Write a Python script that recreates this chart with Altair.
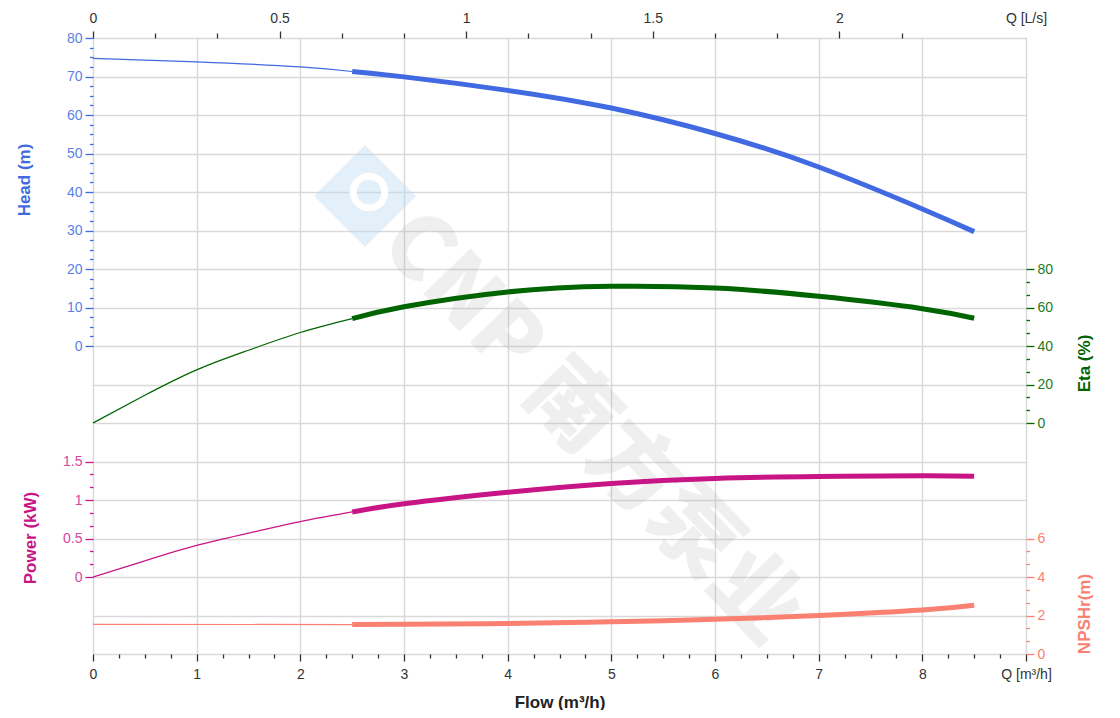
import altair as alt
import pandas as pd

# ---------------- data ----------------
q_head = [0, 1, 2, 2.5, 3, 4, 5, 6, 7, 8, 8.5]
head_m = [74.7, 73.8, 72.5, 71.3, 69.9, 66.4, 61.8, 55.2, 46.5, 35.6, 29.7]

q_eta = [0, 0.5, 1, 1.5, 2, 2.5, 3, 4, 5, 6, 7, 8, 8.5]
eta_pct = [0, 14.4, 27.6, 37.8, 47.0, 54.2, 60.4, 68.1, 71.0, 70.1, 65.8, 59.4, 54.4]

q_power = [0, 0.5, 1, 1.5, 2, 2.5, 3, 4, 5, 6, 7, 8, 8.5]
power_kw = [0, 0.21, 0.41, 0.57, 0.72, 0.845, 0.95, 1.10, 1.215, 1.28, 1.305, 1.315, 1.31]

q_npsh = [0, 2.5, 3, 4, 5, 6, 7, 8, 8.5]
npshr_m = [1.54, 1.53, 1.54, 1.58, 1.67, 1.80, 2.0, 2.28, 2.53]

op_start = 2.5  # start of the operating (thick) range

watermark_text = "CNP 南方泵业"

HEAD_C, ETA_C, POW_C, NPSH_C = "#4169E1", "#006400", "#C71585", "#FA8072"
FONT = "Liberation Sans"
GRID_C = "#d9d9d9"

xscale = alt.Scale(domain=[0, 9], nice=False, zero=False)
head_scale = alt.Scale(domain=[-80, 80], nice=False)
eta_scale = alt.Scale(domain=[-120, 200], nice=False)
pow_scale = alt.Scale(domain=[-1, 7], nice=False)
npsh_scale = alt.Scale(domain=[0, 32], nice=False)
qls_scale = alt.Scale(domain=[0, 2.5], nice=False, zero=False)


def cond(test, yes, no):
    return {"condition": {"test": test, "value": yes}, "value": no}


def yaxis(orient, values, major_test, label_expr, tick_c, label_c, title, tx, ty, **kw):
    opts = dict(grid=False)
    opts.update(kw)
    return alt.Axis(
        orient=orient, values=values, labelExpr=label_expr,
        tickSize=cond(major_test, 8, 3.5), tickColor=tick_c, tickWidth=1.3,
        labelColor=label_c, labelFont=FONT, labelFontSize=14, labelPadding=3,
        labelOverlap=False, domain=False,
        title=title, titleColor=tick_c, titleFont=FONT, titleFontSize=17,
        titleFontWeight="bold", titleAngle=270, titleAlign="center",
        titleBaseline="middle", titleX=tx, titleY=ty, **opts,
    )


x_bottom_axis = alt.Axis(
    orient="bottom", values=[i * 0.25 for i in range(37)],
    labelExpr="datum.value == 9 ? 'Q [m³/h]' : (datum.value % 1 == 0 ? '' + datum.value : '')",
    tickSize=cond("datum.value % 1 == 0", 7, 4), tickColor="#333", tickWidth=1.3,
    labelColor="#333", labelFont=FONT, labelFontSize=14, labelPadding=6,
    labelFlush=False, labelOverlap=False, domain=False,
    grid=True, gridColor=GRID_C, gridWidth=1.5,
    gridOpacity=cond("datum.value % 1 == 0", 1, 0),
    title="Flow (m³/h)", titleFont=FONT, titleFontSize=17, titleFontWeight="bold",
    titleColor="#222", titleY=48, titleBaseline="middle",
)

x_top_axis = alt.Axis(
    orient="top", values=[k / 6 for k in range(14)] + [2.5],
    labelExpr="datum.value == 2.5 ? 'Q [L/s]' : (abs(datum.value*2 - round(datum.value*2)) < 1e-6 ? '' + round(datum.value*2)/2 : '')",
    tickSize=cond("abs(datum.value*2 - round(datum.value*2)) < 1e-6", 7, 5),
    tickOpacity=cond("datum.value == 2.5", 0, 1),
    tickColor="#333", tickWidth=1.3, labelColor="#333", labelFont=FONT,
    labelFontSize=14, labelPadding=6, labelFlush=False, labelOverlap=False,
    domain=False, grid=False, title="",
)

head_axis = yaxis(
    "left", [i * 2.5 for i in range(33)], "datum.value % 10 == 0",
    "datum.value % 10 == 0 ? '' + datum.value : ''",
    HEAD_C, "#5b7fe6", "Head (m)", -69, 141.5,
)
pow_axis = yaxis(
    "left", [k / 6 for k in range(10)],
    "abs(datum.value*2 - round(datum.value*2)) < 1e-6",
    "abs(datum.value*2 - round(datum.value*2)) < 1e-6 ? '' + round(datum.value*2)/2 : ''",
    POW_C, "#d4479f", "Power (kW)", -63, 499.5,
)
eta_axis = yaxis(
    "right", [k * 20 / 3 for k in range(13)],
    "abs(datum.value/20 - round(datum.value/20)) < 1e-6",
    "abs(datum.value/20 - round(datum.value/20)) < 1e-6 ? '' + round(datum.value) : ''",
    ETA_C, "#1f7a1f", "Eta (%)", 58.5, 325,
)
even = "abs(datum.value/2 - round(datum.value/2)) < 1e-6"
npsh_axis = yaxis(
    "right", [k * 2 / 3 for k in range(10)] + list(range(8, 33, 2)), even,
    f"({even}) && datum.value < 6.01 ? '' + round(datum.value) : ''",
    NPSH_C, "#f9806f", "NPSHr(m)", 58.5, 575.5,
    tickOpacity=cond("datum.value > 6.01", 0, 1),
    grid=True, gridColor=GRID_C, gridWidth=1.5, gridOpacity=cond(even, 1, 0),
)


def curve(q, vals, name, color, scale, axis, xaxis=None):
    df = pd.DataFrame({"q": q, name: vals})
    xenc = alt.X("q:Q", scale=xscale, axis=xaxis) if xaxis is not None else alt.X("q:Q", scale=xscale, axis=None)
    thin = alt.Chart(df).transform_filter(f"datum.q <= {op_start}").mark_line(
        color=color, strokeWidth=1.2, interpolate="natural"
    ).encode(x=xenc, y=alt.Y(f"{name}:Q", scale=scale, axis=axis))
    thick = alt.Chart(df).transform_filter(f"datum.q >= {op_start}").mark_line(
        color=color, strokeWidth=5, interpolate="natural"
    ).encode(x=alt.X("q:Q", scale=xscale, axis=None),
             y=alt.Y(f"{name}:Q", scale=scale, axis=None))
    return [thin, thick]


wm_df = pd.DataFrame({"t": [watermark_text]})
logo = alt.Chart(wm_df).mark_point(
    shape="square", angle=45, filled=True, size=5200, color="#b9d8f0", opacity=0.4
).encode(x=alt.value(272), y=alt.value(158))
logo_ring = alt.Chart(wm_df).mark_point(
    shape="circle", filled=False, size=1000, color="#ffffff", strokeWidth=7, opacity=1
).encode(x=alt.value(276), y=alt.value(154))
wm = alt.Chart(wm_df).mark_text(
    font="Noto Sans CJK SC", fontWeight=900, fontSize=88, angle=46,
    align="center", baseline="middle", color="#9a9a9a", opacity=0.15,
).encode(x=alt.value(497), y=alt.value(391), text="t:N")

layers = [logo, logo_ring, wm]
layers += curve(q_head, head_m, "head", HEAD_C, head_scale, head_axis, xaxis=x_bottom_axis)
layers += curve(q_eta, eta_pct, "eta", ETA_C, eta_scale, eta_axis)
layers += curve(q_power, power_kw, "power", POW_C, pow_scale, pow_axis)
layers += curve(q_npsh, npshr_m, "npsh", NPSH_C, npsh_scale, npsh_axis)

top_df = pd.DataFrame({"q": q_head, "head": head_m})
top_layer = alt.Chart(top_df).transform_calculate(qls="datum.q / 3.6").mark_point(
    opacity=0
).encode(
    x=alt.X("qls:Q", scale=qls_scale, axis=x_top_axis),
    y=alt.Y("head:Q", scale=head_scale, axis=None),
)
layers.append(top_layer)

chart = alt.layer(*layers).resolve_scale(
    x="independent", y="independent"
).properties(
    width=933, height=616,
    autosize=alt.AutoSizeParams(type="none"),
    padding={"left": 85, "top": 30, "right": 80, "bottom": 56},
).configure_view(strokeWidth=0).configure(background="white")

chart.save("out.html", embed_options={"renderer": "svg", "actions": False})
